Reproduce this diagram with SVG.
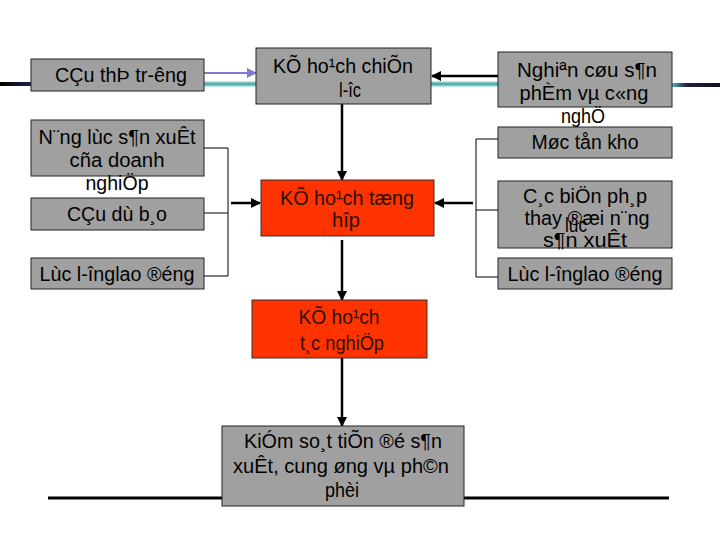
<svg xmlns="http://www.w3.org/2000/svg" width="720" height="540" viewBox="0 0 720 540">
<defs>
<style>
.g{fill:#a0a0a0;stroke:#222;stroke-width:1}
.r{fill:#ff3300;stroke:#333;stroke-width:1}
text{font-family:"Liberation Sans",Arial,sans-serif;font-size:20px;text-anchor:middle;fill:#000}
.rt{fill:#2a1200}
.thin{stroke:#000;stroke-width:1;fill:none}
.thick{stroke:#000;stroke-width:2.5;fill:none}
</style>
<marker id="ah" viewBox="0 0 10 10" refX="9" refY="5" markerWidth="4" markerHeight="4" orient="auto"><path d="M0,0 L10,5 L0,10 z" fill="#000"/></marker>
<marker id="ahp" viewBox="0 0 10 10" refX="9" refY="5" markerWidth="5" markerHeight="5" orient="auto"><path d="M0,0 L10,5 L0,10 z" fill="#7c7cd8"/></marker>
<linearGradient id="lg" gradientUnits="userSpaceOnUse" x1="0" y1="0" x2="31" y2="0"><stop offset="0" stop-color="#000"/><stop offset="1" stop-color="#202050"/></linearGradient>
<linearGradient id="rg" gradientUnits="userSpaceOnUse" x1="672" y1="0" x2="720" y2="0"><stop offset="0" stop-color="#4fb8b8"/><stop offset="0.3" stop-color="#202040"/><stop offset="1" stop-color="#101020"/></linearGradient>
</defs>
<rect width="720" height="540" fill="#fff"/>
<g id="decor">
<rect x="0" y="82" width="31" height="4" fill="url(#lg)"/>
<rect x="204" y="81" width="52" height="6" fill="#bfe6e6"/>
<rect x="204" y="82.5" width="52" height="3" fill="#4fb0b0"/>
<rect x="431" y="81" width="67" height="6" fill="#bfe6e6"/>
<rect x="431" y="82.5" width="67" height="3" fill="#4fb0b0"/>
<rect x="672" y="83" width="48" height="4" fill="url(#rg)"/>
<line x1="48" y1="498" x2="669" y2="498" stroke="#000" stroke-width="3"/>
</g>
<g id="connectors">
<line x1="204" y1="73" x2="256" y2="73" stroke="#7c7cd8" stroke-width="2" marker-end="url(#ahp)"/>
<line x1="498" y1="76" x2="432" y2="76" class="thick" marker-end="url(#ah)"/>
<polyline class="thin" points="204,148 228,148 228,276 204,276"/>
<line class="thin" x1="204" y1="213" x2="228" y2="213"/>
<line x1="231" y1="203" x2="260" y2="203" class="thick" marker-end="url(#ah)"/>
<polyline class="thin" points="498,139 476,139 476,277 498,277"/>
<line class="thin" x1="476" y1="210" x2="498" y2="210"/>
<line x1="473" y1="203" x2="435" y2="203" class="thick" marker-end="url(#ah)"/>
<line x1="342" y1="104" x2="342" y2="180" class="thick" marker-end="url(#ah)"/>
<line x1="342" y1="240" x2="342" y2="300" class="thick" marker-end="url(#ah)"/>
<line x1="342" y1="358" x2="342" y2="426" class="thick" marker-end="url(#ah)"/>
</g>
<g id="n-cau-thi-truong">
<rect class="g" x="31" y="59" width="173" height="32"/>
<text x="121" y="82" textLength="132" lengthAdjust="spacingAndGlyphs">CÇu thÞ tr-êng</text>
</g>
<g id="n-nang-luc">
<rect class="g" x="31" y="120" width="173" height="56"/>
<text x="117" y="144" textLength="157" lengthAdjust="spacingAndGlyphs">N¨ng lùc s¶n xuÊt</text>
<text x="117" y="167" textLength="95" lengthAdjust="spacingAndGlyphs">cña doanh</text>
<text x="117" y="190" textLength="63" lengthAdjust="spacingAndGlyphs">nghiÖp</text>
</g>
<g id="n-cau-du-bao">
<rect class="g" x="31" y="198" width="173" height="32"/>
<text x="117" y="221" textLength="100" lengthAdjust="spacingAndGlyphs">CÇu dù b¸o</text>
</g>
<g id="n-luc-luong-l">
<rect class="g" x="31" y="258" width="173" height="31"/>
<text x="117" y="281" textLength="155" lengthAdjust="spacingAndGlyphs">Lùc l-înglao ®éng</text>
</g>
<g id="n-chien-luoc">
<rect class="g" x="256" y="48" width="175" height="56"/>
<text x="343" y="73" textLength="140" lengthAdjust="spacingAndGlyphs">KÕ ho¹ch chiÕn</text>
<text x="350" y="97" textLength="22" lengthAdjust="spacingAndGlyphs">l-îc</text>
</g>
<g id="n-tong-hop">
<rect class="r" x="261" y="180" width="173" height="56"/>
<text class="rt" x="347" y="205" textLength="134" lengthAdjust="spacingAndGlyphs">KÕ ho¹ch tæng</text>
<text class="rt" x="346" y="227" textLength="28" lengthAdjust="spacingAndGlyphs">hîp</text>
</g>
<g id="n-tac-nghiep">
<rect class="r" x="252" y="300" width="175" height="58"/>
<text class="rt" x="339" y="324" textLength="81" lengthAdjust="spacingAndGlyphs">KÕ ho¹ch</text>
<text class="rt" x="342" y="350" textLength="84" lengthAdjust="spacingAndGlyphs">t¸c nghiÖp</text>
</g>
<g id="n-kiem-soat">
<rect class="g" x="222" y="426" width="242" height="80"/>
<text x="343" y="448" textLength="198" lengthAdjust="spacingAndGlyphs">KiÓm so¸t tiÕn ®é s¶n</text>
<text x="341" y="473" textLength="216" lengthAdjust="spacingAndGlyphs">xuÊt, cung øng vµ ph©n</text>
<text x="342" y="497" textLength="34" lengthAdjust="spacingAndGlyphs">phèi</text>
</g>
<g id="n-nghien-cuu">
<rect class="g" x="498" y="52" width="174" height="55"/>
<text x="587" y="77" textLength="140" lengthAdjust="spacingAndGlyphs">Nghiªn cøu s¶n</text>
<text x="584" y="100" textLength="129" lengthAdjust="spacingAndGlyphs">phÈm vµ c«ng</text>
<text x="583" y="123" textLength="44" lengthAdjust="spacingAndGlyphs">nghÖ</text>
</g>
<g id="n-ton-kho">
<rect class="g" x="498" y="127" width="174" height="31"/>
<text x="585" y="149" textLength="107" lengthAdjust="spacingAndGlyphs">Møc tån kho</text>
</g>
<g id="n-bien-phap">
<rect class="g" x="498" y="181" width="174" height="67"/>
<text x="585" y="203" textLength="124" lengthAdjust="spacingAndGlyphs">C¸c biÖn ph¸p</text>
<text x="587" y="225" textLength="125" lengthAdjust="spacingAndGlyphs">thay ®æi n¨ng</text>
<text x="576" y="232" textLength="22" lengthAdjust="spacingAndGlyphs">lùc</text>
<text x="585" y="247" textLength="84" lengthAdjust="spacingAndGlyphs">s¶n xuÊt</text>
</g>
<g id="n-luc-luong-r">
<rect class="g" x="498" y="258" width="174" height="31"/>
<text x="585" y="281" textLength="155" lengthAdjust="spacingAndGlyphs">Lùc l-înglao ®éng</text>
</g>
</svg>
